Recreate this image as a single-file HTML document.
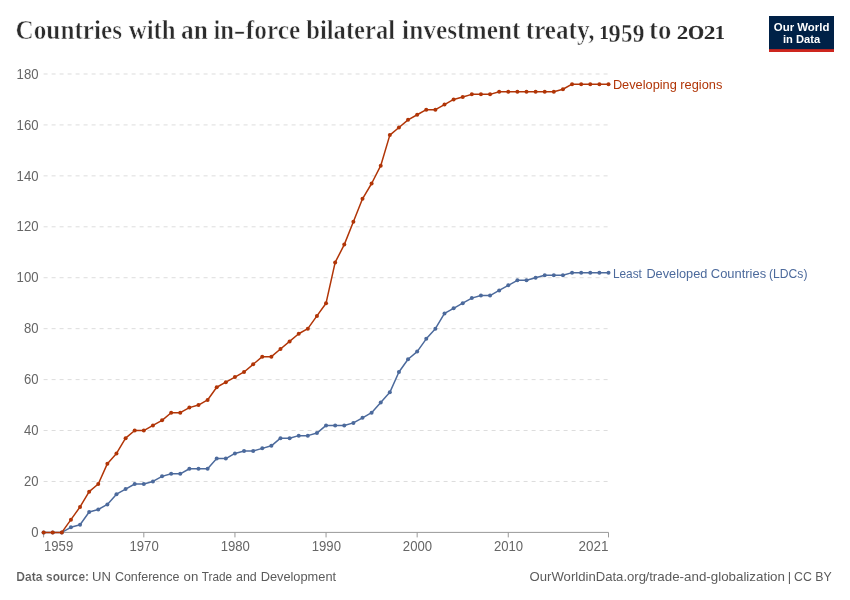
<!DOCTYPE html>
<html lang="en"><head><meta charset="utf-8"><title>Countries with an in-force bilateral investment treaty, 1959 to 2021</title>
<style>html,body{margin:0;padding:0;background:#fff;overflow:hidden}svg{display:block}text{font-family:"Liberation Sans",sans-serif}</style>
</head><body>
<svg width="850" height="600" viewBox="0 0 850 600">
<rect width="850" height="600" fill="#fff"/>
<text y="38.8" font-weight="bold" font-size="26.3" fill="#2b2b2b" stroke="#fff" stroke-width="0.55" style="font-family:'Liberation Serif',serif"><tspan x="15.52" textLength="106.53" lengthAdjust="spacingAndGlyphs" y="38.8">Countries</tspan> <tspan x="128.74" textLength="46.92" lengthAdjust="spacingAndGlyphs" y="38.8">with</tspan> <tspan x="181.01" textLength="26.89" lengthAdjust="spacingAndGlyphs" y="38.8">an</tspan> <tspan x="213.38" textLength="20.63" lengthAdjust="spacingAndGlyphs" y="38.8">in</tspan><tspan x="233.59" textLength="12.12" lengthAdjust="spacingAndGlyphs" y="38.8">-</tspan><tspan x="245.82" textLength="54.39" lengthAdjust="spacingAndGlyphs" y="38.8">force</tspan> <tspan x="306.23" textLength="88.92" lengthAdjust="spacingAndGlyphs" y="38.8">bilateral</tspan> <tspan x="402.09" textLength="118.41" lengthAdjust="spacingAndGlyphs" y="38.8">investment</tspan> <tspan x="525.8" textLength="68.66" lengthAdjust="spacingAndGlyphs" y="38.8">treaty,</tspan> <tspan x="599.26" textLength="9.64" lengthAdjust="spacingAndGlyphs" font-size="19.1" y="38.8" stroke="none">1</tspan><tspan x="608.62" textLength="12.17" lengthAdjust="spacingAndGlyphs" font-size="24.7" y="42.2" stroke-width="0.3">9</tspan><tspan x="621.13" textLength="11.13" lengthAdjust="spacingAndGlyphs" font-size="24.7" y="42.2" stroke-width="0.3">5</tspan><tspan x="632.72" textLength="11.61" lengthAdjust="spacingAndGlyphs" font-size="24.7" y="42.2" stroke-width="0.3">9</tspan> <tspan x="649.06" textLength="22.28" lengthAdjust="spacingAndGlyphs" y="38.8">to</tspan> <tspan x="676.78" textLength="11.56" lengthAdjust="spacingAndGlyphs" font-size="19.1" y="38.8" stroke="none">2</tspan><tspan x="687.97" textLength="16.12" lengthAdjust="spacingAndGlyphs" font-size="19.1" y="38.8" font-weight="normal" stroke="#2b2b2b" stroke-width="0.45">0</tspan><tspan x="703.66" textLength="11.71" lengthAdjust="spacingAndGlyphs" font-size="19.1" y="38.8" stroke="none">2</tspan><tspan x="714.66" textLength="10.3" lengthAdjust="spacingAndGlyphs" font-size="19.1" y="38.8" stroke="none">1</tspan></text>
<rect x="769" y="16" width="65" height="36" fill="#002147"/><rect x="769" y="49.15" width="65" height="2.85" fill="#ce261e"/>
<text x="801.6" y="31" text-anchor="middle" font-weight="bold" font-size="11.6" fill="#fff" textLength="55.6" lengthAdjust="spacingAndGlyphs">Our World</text>
<text x="801.6" y="43" text-anchor="middle" font-weight="bold" font-size="11.6" fill="#fff" textLength="37.2" lengthAdjust="spacingAndGlyphs">in Data</text>
<line x1="43.6" x2="608.5" y1="481.47" y2="481.47" stroke="#ddd" stroke-width="1" stroke-dasharray="4,4"/>
<line x1="43.6" x2="608.5" y1="430.53" y2="430.53" stroke="#ddd" stroke-width="1" stroke-dasharray="4,4"/>
<line x1="43.6" x2="608.5" y1="379.60" y2="379.60" stroke="#ddd" stroke-width="1" stroke-dasharray="4,4"/>
<line x1="43.6" x2="608.5" y1="328.66" y2="328.66" stroke="#ddd" stroke-width="1" stroke-dasharray="4,4"/>
<line x1="43.6" x2="608.5" y1="277.73" y2="277.73" stroke="#ddd" stroke-width="1" stroke-dasharray="4,4"/>
<line x1="43.6" x2="608.5" y1="226.80" y2="226.80" stroke="#ddd" stroke-width="1" stroke-dasharray="4,4"/>
<line x1="43.6" x2="608.5" y1="175.86" y2="175.86" stroke="#ddd" stroke-width="1" stroke-dasharray="4,4"/>
<line x1="43.6" x2="608.5" y1="124.93" y2="124.93" stroke="#ddd" stroke-width="1" stroke-dasharray="4,4"/>
<line x1="43.6" x2="608.5" y1="73.99" y2="73.99" stroke="#ddd" stroke-width="1" stroke-dasharray="4,4"/>
<text x="38.5" y="537" text-anchor="end" font-size="13.8" fill="#666" textLength="7.3" lengthAdjust="spacingAndGlyphs">0</text>
<text x="38.5" y="486" text-anchor="end" font-size="13.8" fill="#666" textLength="14.6" lengthAdjust="spacingAndGlyphs">20</text>
<text x="38.5" y="435" text-anchor="end" font-size="13.8" fill="#666" textLength="14.6" lengthAdjust="spacingAndGlyphs">40</text>
<text x="38.5" y="384" text-anchor="end" font-size="13.8" fill="#666" textLength="14.6" lengthAdjust="spacingAndGlyphs">60</text>
<text x="38.5" y="333" text-anchor="end" font-size="13.8" fill="#666" textLength="14.6" lengthAdjust="spacingAndGlyphs">80</text>
<text x="38.5" y="282" text-anchor="end" font-size="13.8" fill="#666" textLength="21.9" lengthAdjust="spacingAndGlyphs">100</text>
<text x="38.5" y="231" text-anchor="end" font-size="13.8" fill="#666" textLength="21.9" lengthAdjust="spacingAndGlyphs">120</text>
<text x="38.5" y="181" text-anchor="end" font-size="13.8" fill="#666" textLength="21.9" lengthAdjust="spacingAndGlyphs">140</text>
<text x="38.5" y="130" text-anchor="end" font-size="13.8" fill="#666" textLength="21.9" lengthAdjust="spacingAndGlyphs">160</text>
<text x="38.5" y="79" text-anchor="end" font-size="13.8" fill="#666" textLength="21.9" lengthAdjust="spacingAndGlyphs">180</text>
<line x1="43.6" x2="608.5" y1="532.4" y2="532.4" stroke="#999" stroke-width="1"/>
<line x1="43.60" x2="43.60" y1="532.4" y2="537.4" stroke="#999" stroke-width="1"/>
<text x="44" y="551" font-size="13.8" fill="#666" textLength="29.2" lengthAdjust="spacingAndGlyphs">1959</text>
<line x1="143.82" x2="143.82" y1="532.4" y2="537.4" stroke="#999" stroke-width="1"/>
<text x="144.12" y="551" text-anchor="middle" font-size="13.8" fill="#666" textLength="29.2" lengthAdjust="spacingAndGlyphs">1970</text>
<line x1="234.94" x2="234.94" y1="532.4" y2="537.4" stroke="#999" stroke-width="1"/>
<text x="235.24" y="551" text-anchor="middle" font-size="13.8" fill="#666" textLength="29.2" lengthAdjust="spacingAndGlyphs">1980</text>
<line x1="326.05" x2="326.05" y1="532.4" y2="537.4" stroke="#999" stroke-width="1"/>
<text x="326.35" y="551" text-anchor="middle" font-size="13.8" fill="#666" textLength="29.2" lengthAdjust="spacingAndGlyphs">1990</text>
<line x1="417.16" x2="417.16" y1="532.4" y2="537.4" stroke="#999" stroke-width="1"/>
<text x="417.46" y="551" text-anchor="middle" font-size="13.8" fill="#666" textLength="29.2" lengthAdjust="spacingAndGlyphs">2000</text>
<line x1="508.28" x2="508.28" y1="532.4" y2="537.4" stroke="#999" stroke-width="1"/>
<text x="508.58" y="551" text-anchor="middle" font-size="13.8" fill="#666" textLength="29.2" lengthAdjust="spacingAndGlyphs">2010</text>
<line x1="608.50" x2="608.50" y1="532.4" y2="537.4" stroke="#999" stroke-width="1"/>
<text x="608.6" y="551" text-anchor="end" font-size="13.8" fill="#666" textLength="30" lengthAdjust="spacingAndGlyphs">2021</text>
<polyline points="43.60,532.40 52.71,532.40 61.82,532.40 70.93,527.31 80.05,524.76 89.16,512.03 98.27,509.48 107.38,504.39 116.49,494.20 125.60,489.11 134.71,484.01 143.82,484.01 152.94,481.47 162.05,476.37 171.16,473.83 180.27,473.83 189.38,468.73 198.49,468.73 207.60,468.73 216.71,458.55 225.83,458.55 234.94,453.45 244.05,450.91 253.16,450.91 262.27,448.36 271.38,445.81 280.49,438.17 289.60,438.17 298.72,435.63 307.83,435.63 316.94,433.08 326.05,425.44 335.16,425.44 344.27,425.44 353.38,422.89 362.50,417.80 371.61,412.71 380.72,402.52 389.83,392.33 398.94,371.96 408.05,359.22 417.16,351.58 426.27,338.85 435.39,328.66 444.50,313.38 453.61,308.29 462.72,303.20 471.83,298.10 480.94,295.56 490.05,295.56 499.16,290.46 508.28,285.37 517.39,280.28 526.50,280.28 535.61,277.73 544.72,275.18 553.83,275.18 562.94,275.18 572.05,272.64 581.17,272.64 590.28,272.64 599.39,272.64 608.50,272.64" fill="none" stroke="#4C6A9C" stroke-width="1.5" stroke-linejoin="round" stroke-linecap="round"/>
<g fill="#4C6A9C"><circle cx="43.60" cy="532.40" r="2"/><circle cx="52.71" cy="532.40" r="2"/><circle cx="61.82" cy="532.40" r="2"/><circle cx="70.93" cy="527.31" r="2"/><circle cx="80.05" cy="524.76" r="2"/><circle cx="89.16" cy="512.03" r="2"/><circle cx="98.27" cy="509.48" r="2"/><circle cx="107.38" cy="504.39" r="2"/><circle cx="116.49" cy="494.20" r="2"/><circle cx="125.60" cy="489.11" r="2"/><circle cx="134.71" cy="484.01" r="2"/><circle cx="143.82" cy="484.01" r="2"/><circle cx="152.94" cy="481.47" r="2"/><circle cx="162.05" cy="476.37" r="2"/><circle cx="171.16" cy="473.83" r="2"/><circle cx="180.27" cy="473.83" r="2"/><circle cx="189.38" cy="468.73" r="2"/><circle cx="198.49" cy="468.73" r="2"/><circle cx="207.60" cy="468.73" r="2"/><circle cx="216.71" cy="458.55" r="2"/><circle cx="225.83" cy="458.55" r="2"/><circle cx="234.94" cy="453.45" r="2"/><circle cx="244.05" cy="450.91" r="2"/><circle cx="253.16" cy="450.91" r="2"/><circle cx="262.27" cy="448.36" r="2"/><circle cx="271.38" cy="445.81" r="2"/><circle cx="280.49" cy="438.17" r="2"/><circle cx="289.60" cy="438.17" r="2"/><circle cx="298.72" cy="435.63" r="2"/><circle cx="307.83" cy="435.63" r="2"/><circle cx="316.94" cy="433.08" r="2"/><circle cx="326.05" cy="425.44" r="2"/><circle cx="335.16" cy="425.44" r="2"/><circle cx="344.27" cy="425.44" r="2"/><circle cx="353.38" cy="422.89" r="2"/><circle cx="362.50" cy="417.80" r="2"/><circle cx="371.61" cy="412.71" r="2"/><circle cx="380.72" cy="402.52" r="2"/><circle cx="389.83" cy="392.33" r="2"/><circle cx="398.94" cy="371.96" r="2"/><circle cx="408.05" cy="359.22" r="2"/><circle cx="417.16" cy="351.58" r="2"/><circle cx="426.27" cy="338.85" r="2"/><circle cx="435.39" cy="328.66" r="2"/><circle cx="444.50" cy="313.38" r="2"/><circle cx="453.61" cy="308.29" r="2"/><circle cx="462.72" cy="303.20" r="2"/><circle cx="471.83" cy="298.10" r="2"/><circle cx="480.94" cy="295.56" r="2"/><circle cx="490.05" cy="295.56" r="2"/><circle cx="499.16" cy="290.46" r="2"/><circle cx="508.28" cy="285.37" r="2"/><circle cx="517.39" cy="280.28" r="2"/><circle cx="526.50" cy="280.28" r="2"/><circle cx="535.61" cy="277.73" r="2"/><circle cx="544.72" cy="275.18" r="2"/><circle cx="553.83" cy="275.18" r="2"/><circle cx="562.94" cy="275.18" r="2"/><circle cx="572.05" cy="272.64" r="2"/><circle cx="581.17" cy="272.64" r="2"/><circle cx="590.28" cy="272.64" r="2"/><circle cx="599.39" cy="272.64" r="2"/><circle cx="608.50" cy="272.64" r="2"/></g>
<polyline points="43.60,532.40 52.71,532.40 61.82,532.40 70.93,519.67 80.05,506.93 89.16,491.65 98.27,484.01 107.38,463.64 116.49,453.45 125.60,438.17 134.71,430.53 143.82,430.53 152.94,425.44 162.05,420.35 171.16,412.71 180.27,412.71 189.38,407.61 198.49,405.06 207.60,399.97 216.71,387.24 225.83,382.14 234.94,377.05 244.05,371.96 253.16,364.32 262.27,356.68 271.38,356.68 280.49,349.04 289.60,341.40 298.72,333.76 307.83,328.66 316.94,315.93 326.05,303.20 335.16,262.45 344.27,244.62 353.38,221.70 362.50,198.78 371.61,183.50 380.72,165.68 389.83,135.11 398.94,127.47 408.05,119.83 417.16,114.74 426.27,109.65 435.39,109.65 444.50,104.55 453.61,99.46 462.72,96.91 471.83,94.37 480.94,94.37 490.05,94.37 499.16,91.82 508.28,91.82 517.39,91.82 526.50,91.82 535.61,91.82 544.72,91.82 553.83,91.82 562.94,89.27 572.05,84.18 581.17,84.18 590.28,84.18 599.39,84.18 608.50,84.18" fill="none" stroke="#B13507" stroke-width="1.5" stroke-linejoin="round" stroke-linecap="round"/>
<g fill="#B13507"><circle cx="43.60" cy="532.40" r="2"/><circle cx="52.71" cy="532.40" r="2"/><circle cx="61.82" cy="532.40" r="2"/><circle cx="70.93" cy="519.67" r="2"/><circle cx="80.05" cy="506.93" r="2"/><circle cx="89.16" cy="491.65" r="2"/><circle cx="98.27" cy="484.01" r="2"/><circle cx="107.38" cy="463.64" r="2"/><circle cx="116.49" cy="453.45" r="2"/><circle cx="125.60" cy="438.17" r="2"/><circle cx="134.71" cy="430.53" r="2"/><circle cx="143.82" cy="430.53" r="2"/><circle cx="152.94" cy="425.44" r="2"/><circle cx="162.05" cy="420.35" r="2"/><circle cx="171.16" cy="412.71" r="2"/><circle cx="180.27" cy="412.71" r="2"/><circle cx="189.38" cy="407.61" r="2"/><circle cx="198.49" cy="405.06" r="2"/><circle cx="207.60" cy="399.97" r="2"/><circle cx="216.71" cy="387.24" r="2"/><circle cx="225.83" cy="382.14" r="2"/><circle cx="234.94" cy="377.05" r="2"/><circle cx="244.05" cy="371.96" r="2"/><circle cx="253.16" cy="364.32" r="2"/><circle cx="262.27" cy="356.68" r="2"/><circle cx="271.38" cy="356.68" r="2"/><circle cx="280.49" cy="349.04" r="2"/><circle cx="289.60" cy="341.40" r="2"/><circle cx="298.72" cy="333.76" r="2"/><circle cx="307.83" cy="328.66" r="2"/><circle cx="316.94" cy="315.93" r="2"/><circle cx="326.05" cy="303.20" r="2"/><circle cx="335.16" cy="262.45" r="2"/><circle cx="344.27" cy="244.62" r="2"/><circle cx="353.38" cy="221.70" r="2"/><circle cx="362.50" cy="198.78" r="2"/><circle cx="371.61" cy="183.50" r="2"/><circle cx="380.72" cy="165.68" r="2"/><circle cx="389.83" cy="135.11" r="2"/><circle cx="398.94" cy="127.47" r="2"/><circle cx="408.05" cy="119.83" r="2"/><circle cx="417.16" cy="114.74" r="2"/><circle cx="426.27" cy="109.65" r="2"/><circle cx="435.39" cy="109.65" r="2"/><circle cx="444.50" cy="104.55" r="2"/><circle cx="453.61" cy="99.46" r="2"/><circle cx="462.72" cy="96.91" r="2"/><circle cx="471.83" cy="94.37" r="2"/><circle cx="480.94" cy="94.37" r="2"/><circle cx="490.05" cy="94.37" r="2"/><circle cx="499.16" cy="91.82" r="2"/><circle cx="508.28" cy="91.82" r="2"/><circle cx="517.39" cy="91.82" r="2"/><circle cx="526.50" cy="91.82" r="2"/><circle cx="535.61" cy="91.82" r="2"/><circle cx="544.72" cy="91.82" r="2"/><circle cx="553.83" cy="91.82" r="2"/><circle cx="562.94" cy="89.27" r="2"/><circle cx="572.05" cy="84.18" r="2"/><circle cx="581.17" cy="84.18" r="2"/><circle cx="590.28" cy="84.18" r="2"/><circle cx="599.39" cy="84.18" r="2"/><circle cx="608.50" cy="84.18" r="2"/></g>
<text y="89" font-size="13" fill="#B13507"><tspan x="612.88" textLength="63.91" lengthAdjust="spacingAndGlyphs">Developing</tspan> <tspan x="680.27" textLength="42.02" lengthAdjust="spacingAndGlyphs">regions</tspan></text>
<text y="278" font-size="13" fill="#4C6A9C"><tspan x="612.89" textLength="29.03" lengthAdjust="spacingAndGlyphs">Least</tspan> <tspan x="646.41" textLength="60.91" lengthAdjust="spacingAndGlyphs">Developed</tspan> <tspan x="710.82" textLength="55.31" lengthAdjust="spacingAndGlyphs">Countries</tspan> <tspan x="769.07" textLength="38.42" lengthAdjust="spacingAndGlyphs">(LDCs)</tspan></text>
<text y="581" font-size="13" fill="#5b5b5b"><tspan font-weight="bold" stroke="#fff" stroke-width="0.15"><tspan x="16.37" textLength="26.13" lengthAdjust="spacingAndGlyphs">Data</tspan> <tspan x="46.02" textLength="42.95" lengthAdjust="spacingAndGlyphs">source:</tspan></tspan> <tspan x="92.1" textLength="18.9" lengthAdjust="spacingAndGlyphs">UN</tspan> <tspan x="114.89" textLength="64.59" lengthAdjust="spacingAndGlyphs">Conference</tspan> <tspan x="183.61" textLength="14.73" lengthAdjust="spacingAndGlyphs">on</tspan> <tspan x="201.86" textLength="30.22" lengthAdjust="spacingAndGlyphs">Trade</tspan> <tspan x="236.05" textLength="20.73" lengthAdjust="spacingAndGlyphs">and</tspan> <tspan x="260.65" textLength="75.44" lengthAdjust="spacingAndGlyphs">Development</tspan></text>
<text y="581" font-size="13" fill="#5b5b5b"><tspan x="529.61" textLength="116.39" lengthAdjust="spacingAndGlyphs">OurWorldinData.org</tspan><tspan x="645.46" textLength="139.51" lengthAdjust="spacingAndGlyphs">/trade-and-globalization</tspan> <tspan x="787.8">|</tspan> <tspan x="794.06" textLength="37.65" lengthAdjust="spacingAndGlyphs">CC BY</tspan></text>
</svg>
</body></html>
